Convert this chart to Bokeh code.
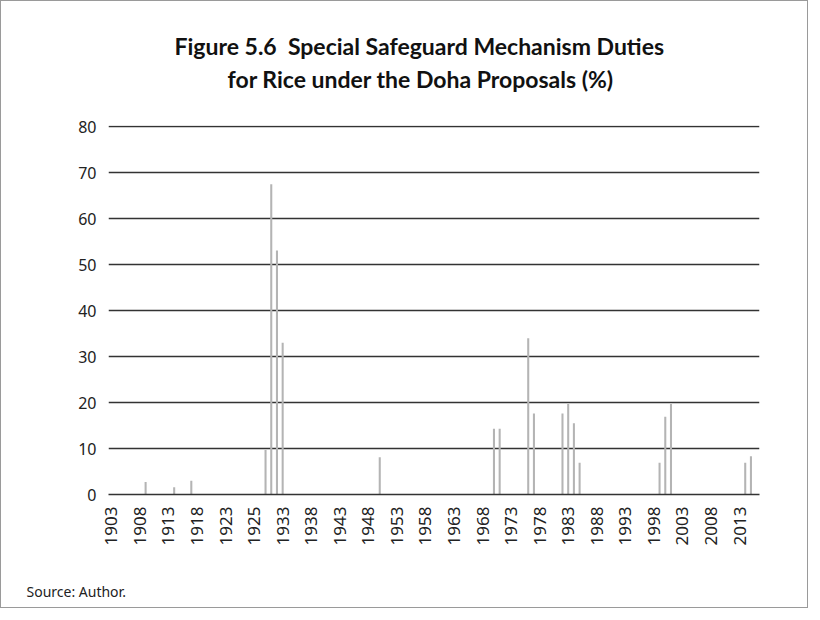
from bokeh.plotting import figure
from bokeh.models import Range1d, FixedTicker, Title
from bokeh.embed import file_html
from bokeh.resources import INLINE
import math

# ---- data ----
periods = list(range(1903, 1924)) + [1924, 1924, 1925, 1925, 1925] + list(range(1929, 2017))
bar_years = [1909, 1914, 1917, 1930, 1931, 1932, 1933, 1950, 1970, 1971, 1976, 1977,
             1982, 1983, 1984, 1985, 1999, 2000, 2001, 2014, 2015]
duties = [2.7, 1.6, 3.0, 9.7, 67.5, 53.1, 33.0, 8.1, 14.3, 14.3, 34.0, 17.6,
          17.6, 19.7, 15.5, 6.9, 6.9, 16.9, 19.7, 6.9, 8.3]
tick_step = 5
y_ticks = [0, 10, 20, 30, 40, 50, 60, 70, 80]
title_lines = ["Figure 5.6\u00a0\u00a0Special Safeguard Mechanism Duties",
               "for Rice under the Doha Proposals (%)"]
source_text = "Source: Author."

bar_x = [periods.index(y) for y in bar_years]
x_ticks = list(range(0, len(periods) - 3, tick_step))
x_labels = {i: str(periods[i]) for i in x_ticks}

p = figure(width=808, height=608, output_backend="svg", toolbar_location=None,
           x_range=Range1d(-0.5, len(periods) - 0.5), y_range=Range1d(0, 80.3),
           min_border_left=107, min_border_right=50, min_border_top=124, min_border_bottom=115)
p.styles = {"border": "1px solid #9a9a9a"}

p.vbar(x=bar_x, top=duties, width=0.36, bottom=0, color="#b4b4b4", line_color=None)

p.outline_line_color = None
p.xgrid.visible = False
p.ygrid.ticker = FixedTicker(ticks=y_ticks)
p.ygrid.grid_line_color = "#333333"
p.ygrid.grid_line_width = 1.4

p.yaxis.ticker = FixedTicker(ticks=y_ticks)
p.yaxis.axis_line_color = None
p.yaxis.major_tick_line_color = None
p.yaxis.minor_tick_line_color = None
p.yaxis.major_tick_out = 0
p.yaxis.major_tick_in = 0
p.yaxis.minor_tick_out = 0
p.yaxis.major_label_standoff = 12
p.yaxis.major_label_text_font = "Noto Sans"
p.yaxis.major_label_text_font_size = "16px"
p.yaxis.major_label_text_color = "#222222"

p.xaxis.ticker = FixedTicker(ticks=x_ticks)
p.xaxis.major_label_overrides = x_labels
p.xaxis.major_label_orientation = math.pi / 2
p.xaxis.axis_line_color = "#333333"
p.xaxis.axis_line_width = 1.4
p.xaxis.major_tick_line_color = None
p.xaxis.minor_tick_line_color = None
p.xaxis.major_tick_out = 0
p.xaxis.major_tick_in = 0
p.xaxis.minor_tick_out = 0
p.xaxis.major_label_standoff = 12
p.xaxis.major_label_text_font = "Noto Sans"
p.xaxis.major_label_text_font_size = "17px"
p.xaxis.major_label_text_color = "#222222"

# title: spacer next to the frame, then line 2, then line 1
spacer_top = Title(text="\u00a0", standoff=20, text_font_size="10px")
t2 = Title(text=title_lines[1], align="left", offset=119, standoff=0,
           text_font="Lato", text_font_style="bold", text_font_size="23px", text_color="#111111")
t1 = Title(text=title_lines[0], align="left", offset=66, standoff=5,
           text_font="Lato", text_font_style="bold", text_font_size="23px", text_color="#111111")
p.add_layout(spacer_top, "above")
p.add_layout(t2, "above")
p.add_layout(t1, "above")

spacer_bot = Title(text="\u00a0", standoff=18, text_font_size="10px")
src = Title(text=source_text, align="left", offset=-82, standoff=0,
            text_font="Noto Sans", text_font_style="normal", text_font_size="14px", text_color="#222222")
p.add_layout(spacer_bot, "below")
p.add_layout(src, "below")

open("out.html", "w").write(file_html(p, INLINE))
